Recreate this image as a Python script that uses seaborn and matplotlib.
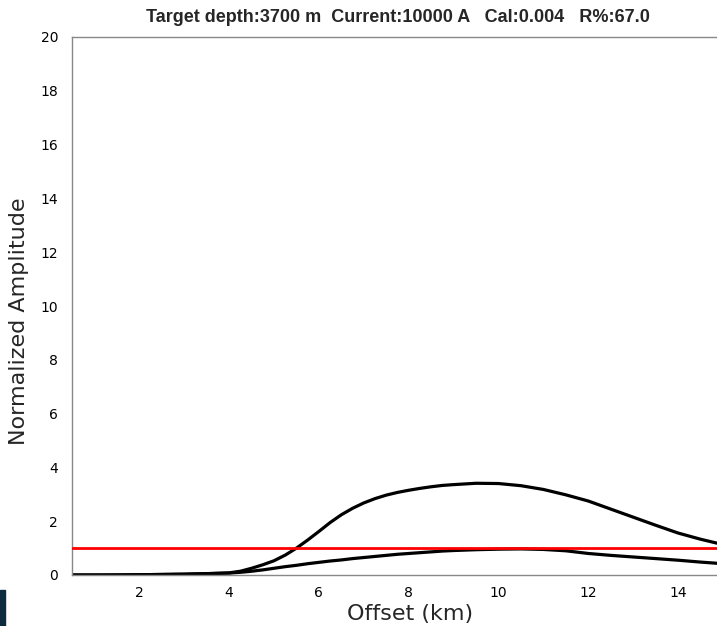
"""Offset vs normalized amplitude plot"""

import matplotlib
matplotlib.use('Agg')
import matplotlib.pyplot as plt
import seaborn as sns
import pandas as pd
from matplotlib.patches import Rectangle

# values (denser where the curves bend)
offset_km = [0.5, 1.0, 1.5, 2.0, 2.5, 3.0, 3.5, 4.0, 4.25, 4.5, 4.75, 5.0,
             5.25, 5.5, 5.75, 6.0, 6.25, 6.5, 6.75, 7.0, 7.25, 7.5, 7.75, 8.0,
             8.25, 8.5, 8.75, 9.0, 9.5, 10.0, 10.5, 11.0, 11.5, 12.0, 12.5,
             13.0, 13.5, 14.0, 14.5, 15.0]
amp_total = [0.0, 0.0, 0.0, 0.01, 0.02, 0.03, 0.05, 0.08, 0.14, 0.25, 0.38,
             0.53, 0.74, 1.0, 1.3, 1.62, 1.95, 2.24, 2.48, 2.68, 2.84, 2.97,
             3.07, 3.15, 3.22, 3.28, 3.33, 3.36, 3.41, 3.40, 3.32, 3.18, 2.98,
             2.75, 2.45, 2.15, 1.85, 1.56, 1.33, 1.13]
amp_background = [0.0, 0.0, 0.005, 0.01, 0.02, 0.03, 0.05, 0.07, 0.10, 0.14,
                  0.19, 0.25, 0.31, 0.36, 0.42, 0.47, 0.52, 0.56, 0.61, 0.65,
                  0.69, 0.73, 0.77, 0.80, 0.83, 0.86, 0.89, 0.91, 0.94, 0.96,
                  0.97, 0.95, 0.90, 0.80, 0.73, 0.67, 0.61, 0.55, 0.48, 0.42]
ref_level = 1.0

title = 'Target depth:3700 m  Current:10000 A   Cal:0.004   R%:67.0'

n = len(offset_km)
df = pd.DataFrame({'offset': offset_km * 2,
                   'amp': amp_total + amp_background,
                   'curve': ['total'] * n + ['bg'] * n})

sns.set_style('white')
plt.rcParams['font.family'] = ['DejaVu Sans']

fig = plt.figure(figsize=(7.17, 6.26), dpi=100)
ax = fig.add_axes([72 / 717, 1 - 575 / 626, 651 / 717, 538 / 626])

sns.lineplot(data=df, x='offset', y='amp', units='curve', estimator=None,
             color='black', linewidth=2.3, ax=ax)
ax.axhline(ref_level, color='red', linewidth=2, zorder=3)

ax.set_xlim(0.5, 15)
ax.set_ylim(0, 20)
ax.set_xticks(range(2, 16, 2))
ax.set_yticks(range(0, 21, 2))
ax.tick_params(axis='both', direction='out', length=4, width=0.8,
               color='#888888', labelsize=10, labelcolor='black')
ax.tick_params(axis='y', pad=6)
ax.tick_params(axis='x', pad=4)
for s in ax.spines.values():
    s.set_color('#888888')
    s.set_linewidth(1)

ax.set_xlabel('Offset (km)', fontsize=16)
ax.set_ylabel('Normalized Amplitude', fontsize=16)
ax.xaxis.set_label_coords(0.519, -0.054)
ax.yaxis.set_label_coords(-0.066, 0.472)
fig.text(0.555, 0.985, title, ha='center', va='top', fontsize=13,
         fontweight='bold', family=['Liberation Sans Narrow', 'Liberation Sans'])

# dark corner patch seen in the reference
fig.patches.append(Rectangle((0, 0), 5 / 717, 36 / 626, transform=fig.transFigure,
                             color='#0d2b3c', figure=fig))

fig.savefig('out.png', dpi=100)
